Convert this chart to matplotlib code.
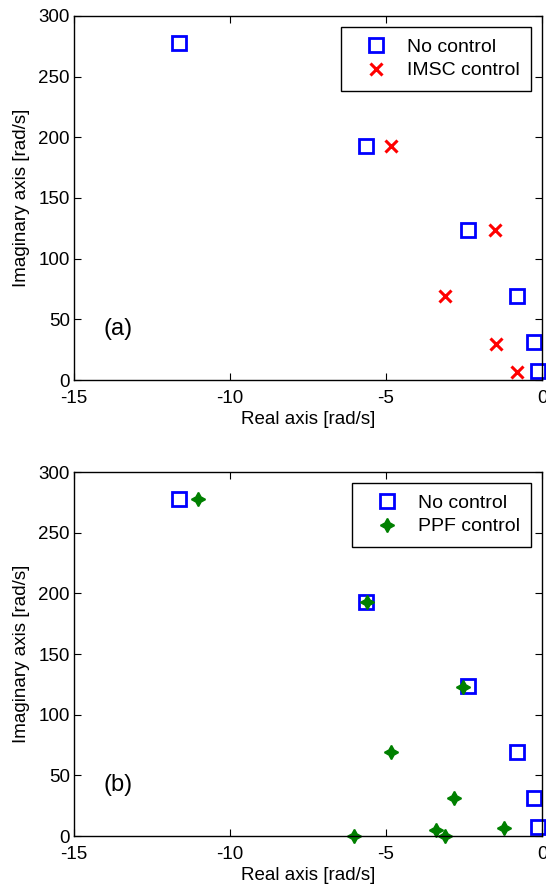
import matplotlib
matplotlib.use("Agg")
import matplotlib.pyplot as plt

plt.rcParams['font.family'] = ['Liberation Sans', 'DejaVu Sans']
plt.rcParams['axes.unicode_minus'] = False

# open-loop poles (same in both panels)
nc_re = [-11.65, -5.65, -2.38, -0.80, -0.27, -0.12]
nc_im = [278, 193, 123.5, 69, 31, 7.5]

# IMSC controlled poles
imsc_re = [-4.85, -1.51, -3.11, -1.46, -0.81]
imsc_im = [193, 123.5, 69, 30, 7]

# PPF controlled poles
ppf_re = [-11.02, -5.62, -2.52, -4.85, -2.83, -3.40, -3.11, -6.03, -1.23]
ppf_im = [277.5, 192.5, 122.5, 69, 31, 5, 0, 0, 7]

xticks = [-15, -10, -5, 0]
yticks = [0, 50, 100, 150, 200, 250, 300]

W, H = 546, 888
fig = plt.figure(figsize=(W / 100, H / 100), dpi=100)


def make_axes(top, bottom):
    ax = fig.add_axes([74 / W, 1 - bottom / H, (542 - 74) / W, (bottom - top) / H])
    ax.set_xlim(-15, 0)
    ax.set_ylim(0, 300)
    ax.set_xticks(xticks)
    ax.set_yticks(yticks)
    ax.tick_params(direction='in', top=True, right=True, labelsize=13.5, length=5)
    ax.tick_params(axis='x', pad=7)
    ax.tick_params(axis='y', pad=3)
    ax.set_xlabel("Real axis [rad/s]", fontsize=13.5, labelpad=3)
    ax.set_ylabel("Imaginary axis [rad/s]", fontsize=13.5, labelpad=6)
    for s in ax.spines.values():
        s.set_linewidth(1.0)
    return ax


def style_legend(ax):
    leg = ax.legend(loc='upper right', fontsize=14, fancybox=False, framealpha=1,
                    edgecolor='black', borderpad=0.6, handletextpad=0.4,
                    handlelength=2.4, labelspacing=0.3, borderaxespad=0.55)
    leg.get_frame().set_linewidth(1.0)


ax1 = make_axes(16, 380)
ax1.plot(nc_re, nc_im, linestyle='none', marker='s', markersize=9.5, markerfacecolor='none',
         markeredgecolor='blue', markeredgewidth=2, label='No control', clip_on=False)
ax1.plot(imsc_re, imsc_im, linestyle='none', marker='x', markersize=9, markeredgecolor='red',
         markeredgewidth=2.2, label='IMSC control', clip_on=False)
ax1.text(-14.05, 42, "(a)", fontsize=17, ha='left', va='center')
style_legend(ax1)

ax2 = make_axes(472, 836)
ax2.plot(nc_re, nc_im, linestyle='none', marker='s', markersize=9.5, markerfacecolor='none',
         markeredgecolor='blue', markeredgewidth=2, label='No control', clip_on=False)
ax2.plot(ppf_re, ppf_im, linestyle='none', marker=(4, 1, 0), markersize=10,
         color='#008000', markeredgewidth=1.2, label='PPF control', clip_on=False)
ax2.text(-14.05, 42, "(b)", fontsize=17, ha='left', va='center')
style_legend(ax2)

fig.savefig("out.png", dpi=100)
